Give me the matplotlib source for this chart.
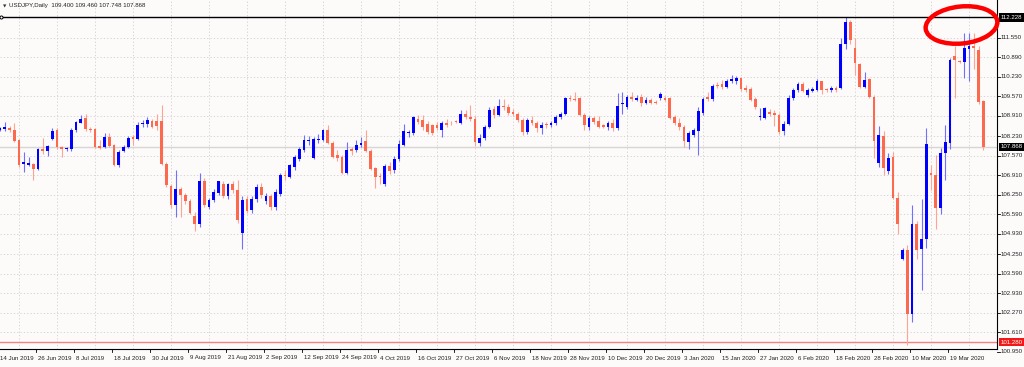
import numpy as np
import matplotlib
matplotlib.use("Agg")
import matplotlib.pyplot as plt
from matplotlib.patches import Ellipse
from matplotlib.transforms import blended_transform_factory

# USDJPY daily candles, 14 Jun 2019 .. 27 Mar 2020
opens = [
    108.45, 108.48, 108.51, 108.44, 108.09, 107.28, 107.27, 107.28,
    107.12, 107.80, 107.73, 108.14, 108.43, 107.85, 107.79, 107.78,
    108.43, 108.68, 108.83, 108.48, 108.46, 107.89, 107.87, 108.21,
    107.93, 107.25, 107.73, 107.85, 108.21, 108.14, 108.64, 108.64,
    108.74, 108.75, 108.74, 107.30, 106.53, 105.91, 106.44, 106.23,
    106.04, 105.55, 105.25, 106.72, 105.85, 106.06, 106.30, 106.60,
    106.20, 106.60, 106.40, 104.95, 106.11, 105.72, 106.10, 106.51,
    106.05, 106.22, 105.83, 106.28, 106.92, 106.84, 107.19, 107.47,
    107.75, 108.06, 107.50, 108.10, 108.10, 108.43, 107.98, 107.60,
    107.52, 106.98, 107.78, 107.75, 107.92, 108.07, 107.73, 107.16,
    106.89, 106.62, 107.21, 107.08, 107.44, 107.92, 108.32, 108.32,
    108.82, 108.77, 108.64, 108.60, 108.60, 108.45, 108.68, 108.68,
    108.72, 108.66, 108.97, 108.88, 108.82, 107.98, 108.18, 108.54,
    109.13, 108.94, 109.24, 109.20, 109.05, 108.99, 108.77, 108.37,
    108.77, 108.68, 108.49, 108.62, 108.60, 108.66, 108.86, 108.99,
    109.50, 109.49, 109.50, 108.94, 108.55, 108.83, 108.74, 108.60,
    108.54, 108.68, 108.49, 109.31, 109.22, 109.54, 109.45, 109.54,
    109.34, 109.45, 109.39, 109.50, 109.50, 109.50, 108.86, 108.66,
    108.54, 108.03, 108.26, 108.41, 109.02, 109.54, 109.47, 109.96,
    110.00, 109.90, 110.10, 110.07, 110.18, 109.84, 109.81, 109.47,
    108.88, 108.83, 109.05, 109.02, 108.94, 108.40, 108.65, 109.52,
    109.79, 109.99, 109.62, 109.76, 109.79, 110.07, 109.81, 109.79,
    109.86, 109.86, 111.32, 112.06, 111.21, 110.67, 109.87, 110.15,
    109.55, 107.31, 108.23, 107.04, 107.52, 106.13, 104.09, 104.40,
    102.23, 105.25, 104.43, 104.77, 106.97, 106.90, 105.82, 107.65,
    107.99, 110.92, 110.76, 110.74, 111.17, 111.26, 111.14, 109.40,
]
highs = [
    108.55, 108.72, 108.56, 108.66, 108.12, 107.70, 107.53, 107.33,
    107.84, 108.15, 107.93, 108.49, 108.50, 107.90, 107.85, 108.50,
    108.74, 108.95, 108.98, 108.55, 108.50, 108.09, 108.34, 108.32,
    107.97, 107.75, 107.92, 108.22, 108.26, 108.72, 108.78, 108.86,
    108.80, 108.98, 109.28, 107.35, 106.60, 107.08, 106.52, 106.30,
    106.10, 105.66, 106.97, 106.80, 106.15, 106.46, 106.73, 106.70,
    106.65, 106.70, 106.74, 106.20, 106.20, 106.20, 106.60, 106.65,
    106.30, 106.28, 106.45, 107.00, 107.10, 107.30, 107.60, 107.85,
    108.26, 108.23, 108.20, 108.30, 108.48, 108.60, 108.05, 107.75,
    107.60, 108.04, 107.85, 108.10, 108.20, 108.45, 107.80, 107.20,
    106.98, 107.30, 107.35, 107.55, 108.10, 108.64, 108.45, 108.90,
    108.95, 108.95, 108.75, 108.65, 108.70, 108.75, 108.80, 108.75,
    108.76, 109.10, 109.10, 109.28, 108.90, 108.30, 108.60, 109.20,
    109.25, 109.49, 109.48, 109.30, 109.15, 109.05, 108.85, 108.85,
    108.90, 108.75, 108.70, 108.70, 108.75, 108.95, 109.05, 109.55,
    109.60, 109.70, 109.55, 109.00, 108.90, 108.92, 108.92, 108.65,
    108.75, 108.80, 109.67, 109.70, 109.60, 109.70, 109.60, 109.65,
    109.55, 109.50, 109.45, 109.70, 109.58, 109.55, 108.95, 108.83,
    108.60, 108.40, 108.50, 109.20, 109.55, 109.70, 110.00, 110.05,
    110.12, 110.15, 110.30, 110.25, 110.22, 109.95, 109.90, 109.55,
    109.17, 109.20, 109.15, 109.10, 109.00, 108.75, 109.60, 109.85,
    110.05, 110.05, 109.85, 109.90, 110.15, 110.10, 109.85, 109.92,
    109.92, 111.55, 112.23, 112.15, 111.55, 110.70, 110.40, 110.20,
    109.60, 108.57, 108.40, 107.65, 107.69, 106.33, 104.45, 104.57,
    105.89, 105.35, 106.09, 108.50, 107.25, 107.58, 107.82, 108.60,
    110.87, 111.25, 110.80, 111.72, 111.71, 111.70, 111.25, 109.46,
]
lows = [
    108.40, 108.41, 108.38, 108.03, 107.18, 107.02, 107.21, 106.76,
    107.10, 107.62, 107.55, 108.10, 107.80, 107.53, 107.74, 107.72,
    108.38, 108.66, 108.40, 108.38, 107.82, 107.78, 107.84, 107.85,
    107.21, 107.19, 107.70, 107.82, 107.92, 108.10, 108.55, 108.55,
    108.50, 108.45, 107.25, 106.50, 105.80, 105.50, 105.50, 105.95,
    105.60, 105.04, 105.16, 105.85, 105.76, 106.00, 106.25, 106.15,
    106.10, 106.30, 105.30, 104.42, 105.65, 105.65, 106.00, 106.15,
    105.95, 105.75, 105.75, 106.20, 106.75, 106.80, 107.10, 107.40,
    107.70, 107.92, 107.45, 108.00, 108.05, 107.95, 107.50, 107.40,
    106.95, 106.95, 107.60, 107.70, 107.85, 107.70, 107.10, 106.48,
    106.62, 106.55, 106.95, 107.00, 107.40, 107.90, 108.20, 108.28,
    108.65, 108.45, 108.30, 108.28, 108.45, 108.20, 108.55, 108.60,
    108.66, 108.62, 108.80, 108.75, 107.90, 107.88, 108.10, 108.50,
    108.85, 108.90, 109.10, 108.95, 108.90, 108.70, 108.25, 108.30,
    108.60, 108.35, 108.30, 108.50, 108.55, 108.60, 108.80, 108.95,
    109.40, 109.40, 108.90, 108.45, 108.43, 108.65, 108.50, 108.50,
    108.45, 108.40, 108.45, 108.99, 109.15, 109.40, 109.40, 109.25,
    109.30, 109.30, 109.30, 109.45, 109.40, 108.80, 108.60, 108.43,
    107.85, 107.78, 108.20, 107.58, 108.95, 109.40, 109.42, 109.85,
    109.80, 109.85, 110.03, 110.00, 109.75, 109.70, 109.40, 109.15,
    108.77, 108.80, 108.90, 108.58, 108.30, 108.25, 108.60, 109.45,
    109.70, 109.70, 109.55, 109.70, 109.75, 109.65, 109.72, 109.72,
    109.70, 109.80, 111.15, 111.35, 110.30, 109.85, 109.85, 109.50,
    107.48, 107.20, 106.91, 106.95, 106.10, 104.94, 104.05, 101.18,
    101.96, 104.09, 103.04, 104.47, 106.40, 105.11, 105.60, 106.74,
    107.80, 109.50, 110.70, 110.20, 110.10, 110.50, 109.30, 107.748,
]
closes = [
    108.51, 108.52, 108.42, 108.07, 107.24, 107.34, 107.33, 107.12,
    107.78, 107.73, 107.90, 108.41, 107.86, 107.78, 107.81, 108.45,
    108.70, 108.82, 108.46, 108.43, 107.87, 107.83, 108.21, 107.89,
    107.25, 107.70, 107.85, 108.18, 108.14, 108.60, 108.68, 108.77,
    108.55, 108.56, 107.30, 106.57, 105.91, 106.44, 106.23, 106.04,
    105.63, 105.27, 106.72, 105.89, 106.08, 106.34, 106.71, 106.20,
    106.60, 106.40, 105.40, 106.08, 105.70, 106.11, 106.51, 106.23,
    106.20, 105.83, 106.35, 106.90, 106.88, 107.24, 107.53, 107.78,
    108.09, 108.09, 108.12, 108.14, 108.43, 107.98, 107.53, 107.48,
    106.98, 107.75, 107.73, 107.92, 107.99, 107.73, 107.13, 106.85,
    106.85, 107.21, 107.05, 107.47, 107.96, 108.41, 108.37, 108.86,
    108.71, 108.54, 108.37, 108.34, 108.49, 108.68, 108.60, 108.66,
    108.70, 108.99, 108.86, 108.79, 108.03, 108.15, 108.54, 109.11,
    108.94, 109.24, 109.20, 109.00, 108.97, 108.77, 108.37, 108.77,
    108.66, 108.49, 108.60, 108.60, 108.68, 108.88, 108.99, 109.50,
    109.47, 109.45, 108.94, 108.60, 108.83, 108.71, 108.54, 108.54,
    108.68, 108.49, 109.24, 109.36, 109.54, 109.47, 109.50, 109.33,
    109.45, 109.36, 109.36, 109.64, 109.45, 108.83, 108.66, 108.54,
    108.07, 108.34, 108.43, 109.09, 109.48, 109.47, 109.92, 109.92,
    109.87, 110.10, 110.15, 110.18, 109.81, 109.79, 109.45, 109.22,
    108.92, 109.17, 108.97, 108.94, 108.37, 108.65, 109.52, 109.79,
    109.99, 109.76, 109.79, 109.83, 110.09, 109.79, 109.77, 109.86,
    109.79, 111.35, 112.07, 111.48, 110.70, 109.89, 110.12, 109.55,
    108.07, 108.26, 107.14, 107.48, 106.13, 105.28, 104.40, 102.23,
    105.25, 104.40, 104.77, 107.96, 106.90, 105.82, 107.65, 108.02,
    110.80, 110.80, 110.74, 111.21, 111.26, 111.20, 109.39, 107.868,
]

date_labels = [
    "14 Jun 2019", "26 Jun 2019", "8 Jul 2019", "18 Jul 2019", "30 Jul 2019",
    "9 Aug 2019", "21 Aug 2019", "2 Sep 2019", "12 Sep 2019", "24 Sep 2019",
    "4 Oct 2019", "16 Oct 2019", "27 Oct 2019", "6 Nov 2019", "18 Nov 2019",
    "28 Nov 2019", "10 Dec 2019", "20 Dec 2019", "3 Jan 2020", "15 Jan 2020",
    "27 Jan 2020", "6 Feb 2020", "18 Feb 2020", "28 Feb 2020", "10 Mar 2020",
    "19 Mar 2020",
]
price_ticks = [111.550, 110.890, 110.230, 109.570, 108.910, 108.230, 107.570,
               106.910, 106.250, 105.590, 104.930, 104.250, 103.590, 102.930,
               102.270, 101.610, 100.950]

high_line = 112.228
low_line = 101.280
last_price = 107.868

o = np.array(opens)
h = np.array(highs)
l = np.array(lows)
c = np.array(closes)
idx = np.arange(len(o))

W, H = 1024, 367
bg = "#fdfafa"
bull = "#0000ff"
bear = "#fb6a4e"
bull_wick = "#7070ff"
bear_wick = "#fca592"
font = ["Liberation Sans", "DejaVu Sans"]

fig = plt.figure(figsize=(W / 100, H / 100), dpi=100, facecolor=bg)
ax = fig.add_axes([0, 18 / H, 997 / W, 349 / H], facecolor=bg)

bar_px = 4.75
ax.set_xlim(0, 997 / bar_px)
ax.set_ylim(101.048, 112.818)

# grid
for gx in np.arange(3.9, 210, 8):
    ax.axvline(gx, color="#cfcfcf", lw=0.6, ls=(0, (1.5, 2.5)), zorder=0)
for v in price_ticks:
    ax.axhline(v, color="#cfcfcf", lw=0.6, ls=(0, (1.5, 2.5)), zorder=0)

# levels
ax.axhline(last_price, color="#d6d6d6", lw=1.0, zorder=1)
ax.axhline(low_line, color="#f48080", lw=1.0, zorder=1)
ax.axhline(high_line, color="black", lw=1.0, zorder=4)
ax.plot([0.3], [high_line], marker="o", ms=2.2, mfc=bg, mec="black", mew=0.7,
        zorder=5, clip_on=False)

# candles
up = c >= o
ax.vlines(idx[up], l[up], h[up], colors=bull_wick, lw=0.8, zorder=2)
ax.vlines(idx[~up], l[~up], h[~up], colors=bear_wick, lw=0.8, zorder=2)
body = np.maximum(np.abs(c - o), 0.025)
ax.bar(idx, body, bottom=np.minimum(o, c), width=0.62,
       color=np.where(up, bull, bear), linewidth=0, zorder=3)

for s in ["top", "left"]:
    ax.spines[s].set_visible(False)
ax.spines["right"].set_color("black")
ax.spines["bottom"].set_color("black")
ax.spines["right"].set_linewidth(0.8)
ax.spines["bottom"].set_linewidth(0.8)
ax.set_xticks([])
ax.set_yticks([])

# right price scale
tr = blended_transform_factory(ax.transAxes, ax.transData)
for v in price_ticks:
    ax.plot([1.0, 1.0 + 2.5 / 997], [v, v], color="black", lw=0.6,
            transform=tr, clip_on=False)
    ax.text(1.0 + 4 / 997, v, f"{v:.3f}", transform=tr, fontsize=4.4,
            family=font, va="center", ha="left", color="#222222", clip_on=False)

for v, fc in [(high_line, "black"), (last_price, "black"), (low_line, "#f01818")]:
    ax.text(1.0 + 3.5 / 997, v, f"{v:.3f}", transform=tr, fontsize=4.4,
            family=font, va="center", ha="left", color="white", clip_on=False,
            bbox=dict(boxstyle="square,pad=0.25", fc=fc, ec="none"))

# date scale
trx = blended_transform_factory(ax.transData, ax.transAxes)
for i, lab in enumerate(date_labels):
    xb = i * 8 - 0.35
    ax.plot([xb, xb], [0, -3 / 349], color="black", lw=0.6, transform=trx,
            clip_on=False)
    ax.text(xb + 0.3, -9 / 349, lab, transform=trx, fontsize=4.4, family=font,
            va="center", ha="left", color="#222222", clip_on=False)

# header
fig.text(3 / W, 1 - 6 / H, "\u25bc", fontsize=3.2, family="DejaVu Sans",
         va="center", ha="left", color="#333333")
fig.text(9 / W, 1 - 6 / H, "USDJPY,Daily  109.400 109.460 107.748 107.868",
         fontsize=4.4, family=font, va="center", ha="left", color="#222222")

# hand-drawn red circle
ell = Ellipse((9.615, (H - 25) / 100), 0.72, 0.37, angle=6, fill=False,
              ec="#ff0000", lw=3.2, transform=fig.dpi_scale_trans, zorder=10)
fig.add_artist(ell)

fig.savefig("out.png", dpi=100, facecolor=bg)
